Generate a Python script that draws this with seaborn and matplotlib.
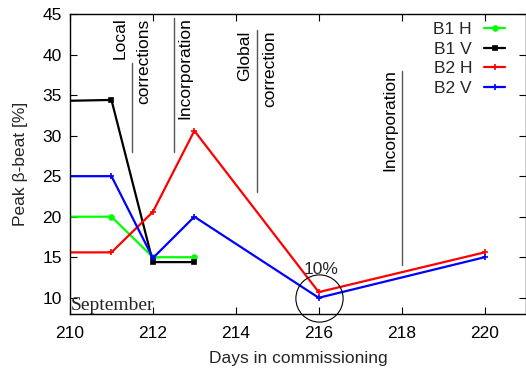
import matplotlib
matplotlib.use("Agg")
import matplotlib.pyplot as plt
import seaborn as sns
import pandas as pd

sns.set_theme(style="ticks")
plt.rcParams['font.family'] = ['Liberation Sans', 'DejaVu Sans']

b1h_days = [210, 211, 212, 213]
b1h_vals = [20, 20, 15, 15]
b1v_days = [210, 211, 212, 213]
b1v_vals = [34.3, 34.4, 14.4, 14.4]
b2h_days = [210, 211, 212, 213, 216, 220]
b2h_vals = [15.6, 15.6, 20.6, 30.6, 10.7, 15.6]
b2v_days = [210, 211, 212, 213, 216, 220]
b2v_vals = [25, 25, 14.9, 20, 10, 15]

series = [
    ("B1 H", b1h_days, b1h_vals, "#00ff00", "o", 3.5),
    ("B1 V", b1v_days, b1v_vals, "#000000", "s", 3.5),
    ("B2 H", b2h_days, b2h_vals, "#ff0000", "+", 4.5),
    ("B2 V", b2v_days, b2v_vals, "#0000ff", "+", 4.5),
]

# event annotations: (x, ymin, ymax)
event_lines = [(211.5, 28, 39), (212.5, 28, 44.5), (214.5, 23, 43), (218.0, 14, 38)]
event_texts = [
    (211.22, 44.6, "Local"),
    (211.78, 44.4, "corrections"),
    (212.76, 44.6, "Incorporation"),
    (214.22, 43.0, "Global"),
    (214.82, 43.0, "correction"),
    (217.72, 38.2, "Incorporation"),
]

FS = 12.5

fig = plt.figure(figsize=(5.26, 3.69), dpi=100)
ax = fig.add_axes([70/526, 1 - 314/369, 456/526, 300/369])

for name, d, v, c, m, ms in series:
    df = pd.DataFrame({"day": d, "val": v})
    sns.lineplot(data=df, x="day", y="val", ax=ax, color=c, marker=m,
                 markersize=ms, markeredgecolor=c, markeredgewidth=1.2,
                 markevery=list(range(1, len(d))),
                 linewidth=1.6, label=name)

for x, y0, y1 in event_lines:
    ax.plot([x, x], [y0, y1], color="#555555", lw=1.0)
for x, y, t in event_texts:
    ax.text(x, y, t, rotation=90, ha="center", va="top", fontsize=FS, color="black")

ax.text(216.05, 12.6, "10%", ha="center", va="bottom", fontsize=FS)
ax.plot([216], [10], marker="o", markersize=34, markerfacecolor="none",
        markeredgecolor="black", markeredgewidth=0.8, clip_on=False)
ax.text(210.03, 8.0, "September", family=["Liberation Serif", "DejaVu Serif"],
        fontsize=14, ha="left", va="bottom")

ax.set_xlim(210, 221)
ax.set_ylim(8, 45)
ax.set_xticks([210, 212, 214, 216, 218, 220])
ax.set_yticks([10, 15, 20, 25, 30, 35, 40, 45])
ax.tick_params(direction="in", top=True, right=True, labelsize=FS, length=5,
               width=0.8, colors="black", pad=6)
ax.tick_params(axis="x", pad=9)
for s in ax.spines.values():
    s.set_color("black")
    s.set_linewidth(1.0)
ax.set_xlabel("Days in commissioning", fontsize=FS, labelpad=7)
ax.set_ylabel("Peak β-beat [%]", fontsize=FS, labelpad=10)

leg = ax.legend(loc="upper right", frameon=False, markerfirst=False,
                fontsize=FS, handlelength=1.2, labelspacing=0.25,
                borderaxespad=0, borderpad=0, handletextpad=0.7,
                bbox_to_anchor=(1 - 21/456, 1 - 8/300))

fig.savefig("out.png", dpi=100)
